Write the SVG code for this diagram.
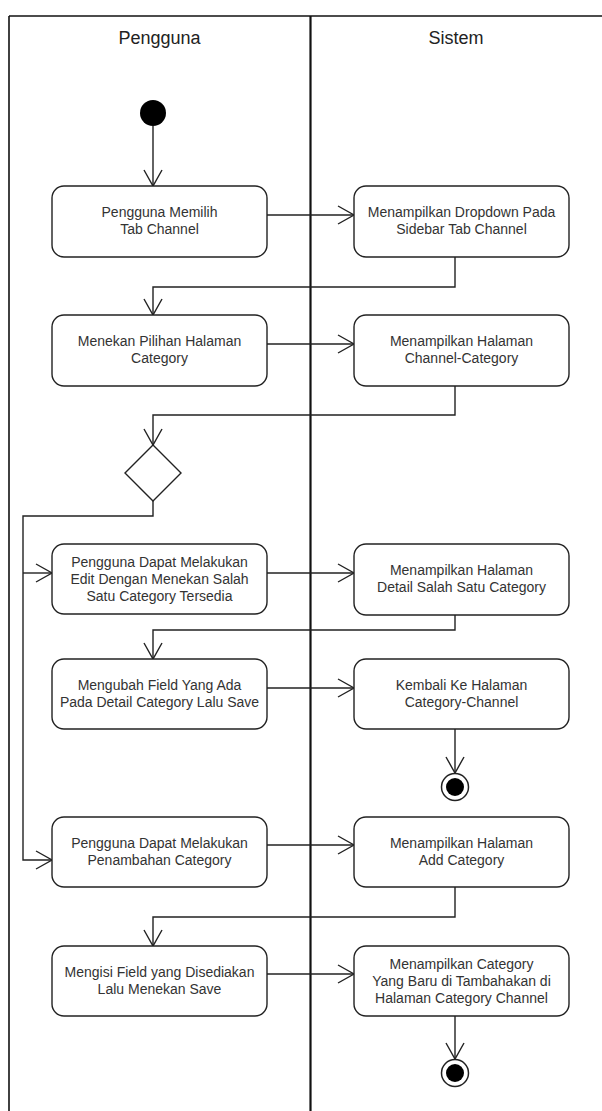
<svg xmlns="http://www.w3.org/2000/svg" width="602" height="1111" viewBox="0 0 602 1111">
  <defs>
    <marker id="open-arrow" markerUnits="userSpaceOnUse" viewBox="-18 -11 20 22" markerWidth="20" markerHeight="22" refX="0" refY="0" orient="auto" overflow="visible">
      <path d="M-16,-9 L0,0 L-16,9" fill="none" stroke="#222" stroke-width="1.4"/>
    </marker>
    <style>
      .frame { stroke: #111; fill: none; }
      .lane-title { font-family: "Liberation Sans", Arial, sans-serif; font-size: 18px; fill: #222; text-anchor: middle; }
      .action rect { fill: #fff; stroke: #222; stroke-width: 1.4; }
      .action text { font-family: "Liberation Sans", Arial, sans-serif; font-size: 14px; fill: #333; text-anchor: middle; }
      .flow { fill: none; stroke: #222; stroke-width: 1.4; }
      .arrow { marker-end: url(#open-arrow); }
    </style>
  </defs>

  <rect width="602" height="1111" fill="#fff"/>

  <!-- swimlane frame -->
  <g id="swimlanes">
    <line class="frame" x1="9" y1="16" x2="602" y2="16" stroke-width="1.6"/>
    <line class="frame" x1="9" y1="16" x2="9" y2="1111" stroke-width="1.6"/>
    <line class="frame" x1="310.5" y1="16" x2="310.5" y2="1111" stroke-width="2.2"/>
    <text class="lane-title" x="159.5" y="44">Pengguna</text>
    <text class="lane-title" x="456" y="44">Sistem</text>
  </g>

  <!-- connectors -->
  <g id="connectors">
    <path class="flow arrow" d="M153,126 V186"/>
    <path class="flow arrow" d="M267,215 H354"/>
    <path class="flow arrow" d="M455,257 V287 H153 V315"/>
    <path class="flow arrow" d="M267,344 H354"/>
    <path class="flow arrow" d="M455,386 V415 H153 V445"/>
    <path class="flow arrow" d="M153,501 V516 H23 V860 H52"/>
    <path class="flow arrow" d="M23,573 H52"/>
    <path class="flow arrow" d="M267,573 H354"/>
    <path class="flow arrow" d="M455,615 V630 H153 V659"/>
    <path class="flow arrow" d="M267,688 H354"/>
    <path class="flow arrow" d="M455,729 V773"/>
    <path class="flow arrow" d="M267,845 H354"/>
    <path class="flow arrow" d="M455,887 V917 H153 V946"/>
    <path class="flow arrow" d="M267,974 H354"/>
    <path class="flow arrow" d="M455,1016 V1059"/>
  </g>

  <!-- start -->
  <g id="start">
    <circle cx="153" cy="113" r="13" fill="#000"/>
  </g>

  <g id="a1" class="action">
    <rect x="52" y="186" width="215" height="71" rx="12"/>
    <text x="159.5" y="217">Pengguna Memilih</text>
    <text x="159.5" y="234">Tab Channel</text>
  </g>
  <g id="s1" class="action">
    <rect x="354" y="186" width="215" height="71" rx="12"/>
    <text x="461.5" y="217">Menampilkan Dropdown Pada</text>
    <text x="461.5" y="234">Sidebar Tab Channel</text>
  </g>

  <g id="a2" class="action">
    <rect x="52" y="315" width="215" height="71" rx="12"/>
    <text x="159.5" y="346">Menekan Pilihan Halaman</text>
    <text x="159.5" y="363">Category</text>
  </g>
  <g id="s2" class="action">
    <rect x="354" y="315" width="215" height="71" rx="12"/>
    <text x="461.5" y="346">Menampilkan Halaman</text>
    <text x="461.5" y="363">Channel-Category</text>
  </g>

  <g id="decision">
    <path d="M153,445 L181,473 L153,501 L125,473 Z" fill="#fff" stroke="#222" stroke-width="1.4"/>
  </g>

  <g id="a3" class="action">
    <rect x="52" y="544" width="215" height="70" rx="12"/>
    <text x="159.5" y="566.5">Pengguna Dapat Melakukan</text>
    <text x="159.5" y="583.5">Edit Dengan Menekan Salah</text>
    <text x="159.5" y="600.5">Satu Category Tersedia</text>
  </g>
  <g id="s3" class="action">
    <rect x="354" y="544" width="215" height="71" rx="12"/>
    <text x="461.5" y="575">Menampilkan Halaman</text>
    <text x="461.5" y="592">Detail Salah Satu Category</text>
  </g>

  <g id="a4" class="action">
    <rect x="52" y="659" width="215" height="70" rx="12"/>
    <text x="159.5" y="689.5">Mengubah Field Yang Ada</text>
    <text x="159.5" y="706.5">Pada Detail Category Lalu Save</text>
  </g>
  <g id="s4" class="action">
    <rect x="354" y="659" width="215" height="70" rx="12"/>
    <text x="461.5" y="689.5">Kembali Ke Halaman</text>
    <text x="461.5" y="706.5">Category-Channel</text>
  </g>

  <g id="end1">
    <circle cx="455" cy="787" r="13.5" fill="#fff" stroke="#222" stroke-width="1.5"/>
    <circle cx="455" cy="787" r="9" fill="#000"/>
  </g>

  <g id="a5" class="action">
    <rect x="52" y="817" width="215" height="70" rx="12"/>
    <text x="159.5" y="847.5">Pengguna Dapat Melakukan</text>
    <text x="159.5" y="864.5">Penambahan Category</text>
  </g>
  <g id="s5" class="action">
    <rect x="354" y="817" width="215" height="70" rx="12"/>
    <text x="461.5" y="847.5">Menampilkan Halaman</text>
    <text x="461.5" y="864.5">Add Category</text>
  </g>

  <g id="a6" class="action">
    <rect x="52" y="946" width="215" height="70" rx="12"/>
    <text x="159.5" y="976.5">Mengisi Field yang Disediakan</text>
    <text x="159.5" y="993.5">Lalu Menekan Save</text>
  </g>
  <g id="s6" class="action">
    <rect x="354" y="946" width="215" height="70" rx="12"/>
    <text x="461.5" y="968.5">Menampilkan Category</text>
    <text x="461.5" y="985.5">Yang Baru di Tambahakan di</text>
    <text x="461.5" y="1002.5">Halaman Category Channel</text>
  </g>

  <g id="end2">
    <circle cx="455" cy="1073" r="13.5" fill="#fff" stroke="#222" stroke-width="1.5"/>
    <circle cx="455" cy="1073" r="9" fill="#000"/>
  </g>
</svg>
